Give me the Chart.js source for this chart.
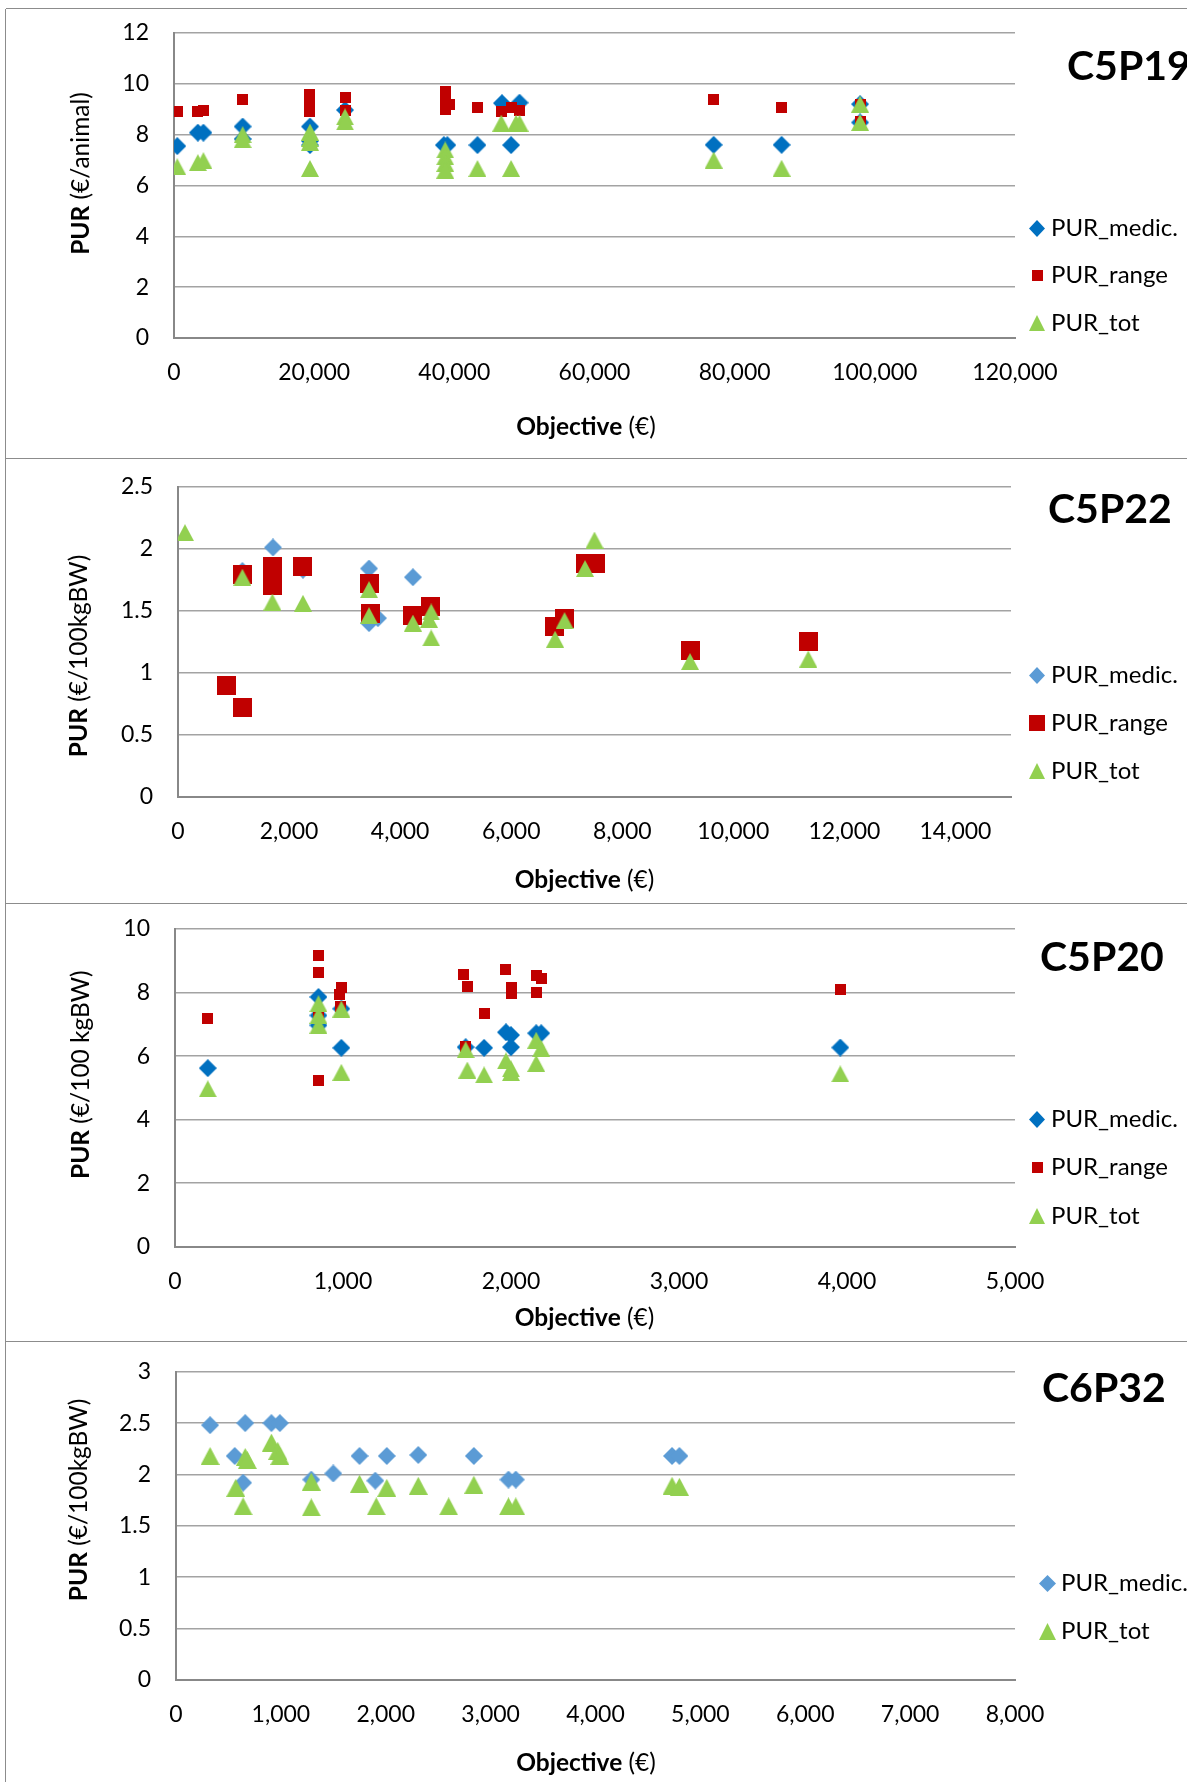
<!DOCTYPE html>
<html>
<head>
<meta charset="utf-8">
<script src="https://cdn.jsdelivr.net/npm/chart.js@4.4.1/dist/chart.umd.min.js"></script>
<style>
html, body { margin:0; padding:0; background:#fff; overflow:hidden; width:1187px; height:1782px; position:relative; }
canvas { position:absolute; display:block; }
.hl { position:absolute; left:6px; width:1181px; height:0; border-top:1.5px solid #8c8c8c; }
.vl { position:absolute; left:5px; top:9px; width:0; height:1773px; border-left:1.5px solid #8c8c8c; }
</style>
</head>
<body>
<canvas id="c1"></canvas>
<canvas id="c2"></canvas>
<canvas id="c3"></canvas>
<canvas id="c4"></canvas>
<div class="hl" style="top:8px"></div>
<div class="hl" style="top:458px"></div>
<div class="hl" style="top:903px"></div>
<div class="hl" style="top:1341px"></div>
<div class="vl"></div>
<script>
// ---------------- DATA ----------------
// C5P19 (PUR in €/animal vs Objective in €)
const C5P19_MEDIC_X = [470, 3400, 4200, 9800, 9800, 19400, 19400, 19400, 24400, 38500, 39000, 43300, 46800, 48100, 49300, 77000, 86700, 97900, 97900];
const C5P19_MEDIC_Y = [7.55, 8.08, 8.08, 8.32, 7.83, 8.32, 7.75, 7.59, 8.97, 7.59, 7.59, 7.59, 9.24, 7.59, 9.26, 7.60, 7.60, 9.20, 8.48];
const C5P19_RANGE_X = [470, 3400, 4200, 9800, 19400, 19400, 19400, 19400, 19400, 24400, 24400, 38700, 38700, 38700, 38700, 39300, 43300, 46700, 48100, 49300, 77000, 86700, 97900, 97900];
const C5P19_RANGE_Y = [8.93, 8.93, 8.97, 9.37, 9.60, 9.42, 9.24, 9.06, 8.90, 9.46, 8.97, 9.70, 9.45, 9.20, 9.00, 9.17, 9.08, 8.93, 9.07, 8.97, 9.40, 9.08, 9.20, 8.50];
const C5P19_TOT_X = [470, 3400, 4200, 9800, 9800, 19400, 19400, 19400, 19400, 24400, 24400, 38700, 38700, 38700, 38700, 43300, 46700, 48100, 48800, 49300, 77000, 86700, 97900, 97900];
const C5P19_TOT_Y = [6.74, 6.90, 6.98, 8.00, 7.80, 8.10, 7.85, 7.70, 6.67, 8.70, 8.50, 7.40, 7.13, 6.87, 6.60, 6.67, 8.45, 6.67, 8.45, 8.45, 7.00, 6.68, 9.20, 8.48];
const C5P19_X_TICKS = [0, 20000, 40000, 60000, 80000, 100000, 120000];
const C5P19_Y_TICKS = [0, 2, 4, 6, 8, 10, 12];

// C5P22 (PUR in €/100kgBW)
const C5P22_MEDIC_X = [1160, 1690, 1710, 2250, 3440, 3440, 3600, 4230, 11350];
const C5P22_MEDIC_Y = [1.82, 1.81, 2.01, 1.83, 1.84, 1.40, 1.44, 1.77, 1.25];
const C5P22_RANGE_X = [870, 1160, 1160, 1700, 1710, 2250, 3440, 3460, 4230, 4540, 6780, 6960, 7330, 7510, 9220, 11350];
const C5P22_RANGE_Y = [0.90, 0.72, 1.79, 1.86, 1.70, 1.86, 1.72, 1.48, 1.46, 1.53, 1.37, 1.44, 1.88, 1.88, 1.18, 1.25];
const C5P22_TOT_X = [126, 1160, 1700, 2250, 3440, 3440, 4230, 4560, 4520, 4560, 6790, 6960, 7330, 7500, 9220, 11350];
const C5P22_TOT_Y = [2.13, 1.77, 1.57, 1.56, 1.67, 1.46, 1.40, 1.49, 1.43, 1.28, 1.27, 1.42, 1.84, 2.07, 1.09, 1.11];
const C5P22_X_TICKS = [0, 2000, 4000, 6000, 8000, 10000, 12000, 14000];
const C5P22_X_MAX = 15000;
const C5P22_Y_TICKS = [0, 0.5, 1, 1.5, 2, 2.5];

// C5P20 (PUR in €/100 kgBW)
const C5P20_MEDIC_X = [195, 854, 854, 854, 990, 990, 1730, 1840, 1970, 2000, 2000, 2150, 2180, 3960];
const C5P20_MEDIC_Y = [5.62, 7.86, 7.28, 6.97, 7.49, 6.26, 6.28, 6.26, 6.75, 6.66, 6.28, 6.72, 6.72, 6.27];
const C5P20_RANGE_X = [195, 854, 854, 854, 854, 980, 993, 985, 1720, 1740, 1730, 1840, 1970, 2000, 2000, 2150, 2180, 2150, 3960];
const C5P20_RANGE_Y = [7.18, 9.18, 8.64, 7.25, 5.23, 7.94, 8.15, 7.55, 8.57, 8.18, 6.30, 7.34, 8.73, 8.15, 7.97, 8.55, 8.45, 8.00, 8.08];
const C5P20_TOT_X = [195, 854, 854, 854, 990, 990, 1730, 1740, 1840, 1970, 2000, 2000, 2150, 2180, 2150, 3960];
const C5P20_TOT_Y = [4.97, 7.65, 7.28, 6.97, 7.48, 5.49, 6.20, 5.56, 5.41, 5.85, 5.60, 5.48, 6.50, 6.24, 5.77, 5.44];
const C5P20_X_TICKS = [0, 1000, 2000, 3000, 4000, 5000];
const C5P20_Y_TICKS = [0, 2, 4, 6, 8, 10];

// C6P32 (PUR in €/100kgBW)
const C6P32_MEDIC_X = [325, 560, 640, 660, 910, 990, 1290, 1500, 1750, 1900, 2010, 2310, 2840, 3170, 3240, 4730, 4800];
const C6P32_MEDIC_Y = [2.48, 2.18, 1.92, 2.50, 2.50, 2.50, 1.95, 2.01, 2.18, 1.94, 2.18, 2.19, 2.18, 1.95, 1.95, 2.18, 2.18];
const C6P32_TOT_X = [325, 570, 640, 660, 680, 910, 970, 990, 1290, 1290, 1750, 1910, 2010, 2310, 2600, 2840, 3170, 3240, 4730, 4800];
const C6P32_TOT_Y = [2.18, 1.87, 1.69, 2.17, 2.14, 2.31, 2.23, 2.18, 1.93, 1.68, 1.91, 1.69, 1.87, 1.89, 1.69, 1.90, 1.69, 1.69, 1.89, 1.88];
const C6P32_X_TICKS = [0, 1000, 2000, 3000, 4000, 5000, 6000, 7000, 8000];
const C6P32_Y_TICKS = [0, 0.5, 1, 1.5, 2, 2.5, 3];

const SERIES_LABELS = ['PUR_medic.', 'PUR_range', 'PUR_tot'];
const X_TITLE = ['Objective', ' (€)'];

// ---------------- STYLE ----------------
const FONT = 'Lato, "Open Sans", "DejaVu Sans", sans-serif';
const DARK_BLUE = '#0070C0', LIGHT_BLUE = '#5B9BD5', RED = '#C00000', GREEN = '#92D050';
const GRID = '#a3a3a3', AXIS = '#888888';

function marker(shape, color, w, h) {
  const c = document.createElement('canvas');
  c.width = w; c.height = h;
  const g = c.getContext('2d');
  g.fillStyle = color;
  g.beginPath();
  if (shape === 'diamond') { g.moveTo(w / 2, 0); g.lineTo(w, h / 2); g.lineTo(w / 2, h); g.lineTo(0, h / 2); }
  else if (shape === 'square') { g.rect(0, 0, w, h); }
  else { g.moveTo(w / 2, 0); g.lineTo(w, h); g.lineTo(0, h); }
  g.closePath();
  g.fill();
  return c;
}

function mixedText(ctx, parts, cx, cy, rotate, size) {
  ctx.save();
  ctx.translate(cx, cy);
  if (rotate) ctx.rotate(-Math.PI / 2);
  const fonts = ['bold ' + size + 'px ' + FONT, size + 'px ' + FONT];
  const widths = parts.map((t, i) => { ctx.font = fonts[i]; return ctx.measureText(t).width; });
  let x = -(widths[0] + widths[1]) / 2;
  ctx.textBaseline = 'middle';
  ctx.textAlign = 'left';
  ctx.fillStyle = '#000';
  parts.forEach((t, i) => { ctx.font = fonts[i]; ctx.fillText(t, x, 0); x += widths[i]; });
  ctx.restore();
}

const deco = {
  id: 'deco',
  afterDraw(chart, args, o) {
    const ctx = chart.ctx;
    ctx.save();
    ctx.fillStyle = '#000';
    ctx.font = 'bold 41px ' + FONT;
    ctx.textAlign = 'left';
    ctx.textBaseline = 'alphabetic';
    ctx.fillText(o.title, o.titlePos[0], o.titlePos[1]);
    ctx.font = '24px ' + FONT;
    ctx.textBaseline = 'middle';
    o.legend.forEach((it, i) => {
      const m = it.icon;
      ctx.drawImage(m, Math.round(o.legendMX - m.width / 2), Math.round(o.legendYs[i] - m.height / 2));
      ctx.fillText(it.label, o.legendTX, o.legendYs[i]);
    });
    mixedText(ctx, X_TITLE, o.xTitlePos[0], o.xTitlePos[1], false, 24.5);
    mixedText(ctx, o.yTitle, o.yTitlePos[0], o.yTitlePos[1], true, 24.5);
    ctx.restore();
  }
};

function pts(xs, ys) { return xs.map((v, i) => ({ x: v, y: ys[i] })); }

const PANELS = [
  {
    id: 'c1', top: 9, height: 450, plot: { l: 174, r: 1015, t: 33, b: 338 },
    title: 'C5P19', titlePos: [1067, 80], xTicks: C5P19_X_TICKS, xMax: 120000, yTicks: C5P19_Y_TICKS,
    yTitle: ['PUR', ' (€/animal)'], yTitlePos: [81.5, 173.5], xTitlePos: [586, 427],
    legendYs: [228, 275, 323], legendMX: 1037, legendTX: 1051,
    series: [
      { label: SERIES_LABELS[0], x: C5P19_MEDIC_X, y: C5P19_MEDIC_Y, icon: marker('diamond', DARK_BLUE, 18, 18), legendIcon: marker('diamond', DARK_BLUE, 16, 17) },
      { label: SERIES_LABELS[1], x: C5P19_RANGE_X, y: C5P19_RANGE_Y, icon: marker('square', RED, 11, 11), legendIcon: marker('square', RED, 11, 11) },
      { label: SERIES_LABELS[2], x: C5P19_TOT_X, y: C5P19_TOT_Y, icon: marker('triangle', GREEN, 18, 17), legendIcon: marker('triangle', GREEN, 16, 16) }
    ]
  },
  {
    id: 'c2', top: 459, height: 445, plot: { l: 178, r: 1011, t: 486.7, b: 796.7 },
    title: 'C5P22', titlePos: [1048, 523], xTicks: C5P22_X_TICKS, xMax: C5P22_X_MAX, yTicks: C5P22_Y_TICKS,
    yTitle: ['PUR', ' (€/100kgBW)'], yTitlePos: [79.5, 656], xTitlePos: [584.5, 880],
    legendYs: [675, 723, 771], legendMX: 1037, legendTX: 1051,
    series: [
      { label: SERIES_LABELS[0], x: C5P22_MEDIC_X, y: C5P22_MEDIC_Y, icon: marker('diamond', LIGHT_BLUE, 18, 18), legendIcon: marker('diamond', LIGHT_BLUE, 16, 17) },
      { label: SERIES_LABELS[1], x: C5P22_RANGE_X, y: C5P22_RANGE_Y, icon: marker('square', RED, 19, 19), legendIcon: marker('square', RED, 16, 16) },
      { label: SERIES_LABELS[2], x: C5P22_TOT_X, y: C5P22_TOT_Y, icon: marker('triangle', GREEN, 18, 17), legendIcon: marker('triangle', GREEN, 16, 16) }
    ]
  },
  {
    id: 'c3', top: 904, height: 438, plot: { l: 175, r: 1015, t: 929, b: 1246.7 },
    title: 'C5P20', titlePos: [1040, 971], xTicks: C5P20_X_TICKS, xMax: 5000, yTicks: C5P20_Y_TICKS,
    yTitle: ['PUR', ' (€/100 kgBW)'], yTitlePos: [81.5, 1074.7], xTitlePos: [584.5, 1318.3],
    legendYs: [1119, 1167, 1216], legendMX: 1037, legendTX: 1051,
    series: [
      { label: SERIES_LABELS[0], x: C5P20_MEDIC_X, y: C5P20_MEDIC_Y, icon: marker('diamond', DARK_BLUE, 18, 18), legendIcon: marker('diamond', DARK_BLUE, 16, 17) },
      { label: SERIES_LABELS[1], x: C5P20_RANGE_X, y: C5P20_RANGE_Y, icon: marker('square', RED, 11, 11), legendIcon: marker('square', RED, 11, 11) },
      { label: SERIES_LABELS[2], x: C5P20_TOT_X, y: C5P20_TOT_Y, icon: marker('triangle', GREEN, 18, 17), legendIcon: marker('triangle', GREEN, 16, 16) }
    ]
  },
  {
    id: 'c4', top: 1342, height: 440, plot: { l: 176, r: 1015, t: 1371.7, b: 1680 },
    title: 'C6P32', titlePos: [1042, 1402], xTicks: C6P32_X_TICKS, xMax: 8000, yTicks: C6P32_Y_TICKS,
    yTitle: ['PUR', ' (€/100kgBW)'], yTitlePos: [79, 1500], xTitlePos: [586, 1763],
    legendYs: [1583, 1631], legendMX: 1047, legendTX: 1061,
    series: [
      { label: SERIES_LABELS[0], x: C6P32_MEDIC_X, y: C6P32_MEDIC_Y, icon: marker('diamond', LIGHT_BLUE, 18, 18), legendIcon: marker('diamond', LIGHT_BLUE, 17, 17) },
      { label: SERIES_LABELS[2], x: C6P32_TOT_X, y: C6P32_TOT_Y, icon: marker('triangle', GREEN, 19, 18), legendIcon: marker('triangle', GREEN, 17, 17) }
    ]
  }
];

function build(p) {
  const W = 1181, H = p.height, OX = 6, OY = p.top;
  const cv = document.getElementById(p.id);
  cv.width = W; cv.height = H;
  cv.style.left = OX + 'px'; cv.style.top = OY + 'px';
  const area = { l: p.plot.l - OX, r: p.plot.r - OX, t: p.plot.t - OY, b: p.plot.b - OY };
  const YW = 60, XH = 70;
  const n = p.series.length;
  const pad = { left: area.l - YW, top: area.t, right: W - area.r, bottom: H - area.b - XH };
  const chart = new Chart(cv, {
    type: 'scatter',
    data: {
      datasets: p.series.map((s, i) => ({
        label: s.label,
        data: pts(s.x, s.y),
        pointStyle: s.icon,
        pointRadius: 9,
        pointHoverRadius: 9,
        backgroundColor: 'transparent',
        borderWidth: 0,
        order: n - i
      }))
    },
    options: {
      responsive: false,
      animation: false,
      events: [],
      layout: { padding: pad },
      plugins: {
        legend: { display: false },
        tooltip: { enabled: false },
        deco: {
          title: p.title,
          titlePos: [p.titlePos[0] - OX, p.titlePos[1] - OY],
          legend: p.series.map(s => ({ label: s.label, icon: s.legendIcon })),
          legendYs: p.legendYs.map(v => v - OY),
          legendMX: p.legendMX - OX,
          legendTX: p.legendTX - OX,
          xTitlePos: [p.xTitlePos[0] - OX, p.xTitlePos[1] - OY],
          yTitle: p.yTitle,
          yTitlePos: [p.yTitlePos[0] - OX, p.yTitlePos[1] - OY]
        }
      },
      scales: {
        x: {
          type: 'linear', position: 'bottom', min: 0, max: p.xMax,
          afterBuildTicks: (a) => { a.ticks = p.xTicks.map(v => ({ value: v })); },
          afterFit: (s) => { s.height = XH; },
          grid: { display: false, drawTicks: false },
          border: { display: true, color: AXIS, width: 2 },
          ticks: {
            font: { family: FONT, size: 23 }, color: '#000', padding: 21,
            maxRotation: 0, autoSkip: false,
            callback: (v) => Number(v).toLocaleString('en-US')
          }
        },
        y: {
          type: 'linear', position: 'left', min: 0, max: p.yTicks[p.yTicks.length - 1],
          afterBuildTicks: (a) => { a.ticks = p.yTicks.map(v => ({ value: v })); },
          afterFit: (s) => { s.width = YW; },
          grid: { display: true, drawTicks: true, tickLength: 25, tickColor: 'rgba(0,0,0,0)', color: GRID, lineWidth: 1.5 },
          border: { display: true, color: AXIS, width: 2 },
          ticks: {
            font: { family: FONT, size: 23 }, color: '#000', padding: 0,
            autoSkip: false,
            callback: (v) => String(v)
          }
        }
      }
    },
    plugins: [deco]
  });
  // nudge the layout padding so that the plot area lands exactly where the reference has it
  for (let k = 0; k < 3; k++) {
    const ca = chart.chartArea;
    const dT = area.t - ca.top, dB = ca.bottom - area.b, dL = area.l - ca.left, dR = ca.right - area.r;
    if (Math.abs(dT) < 0.3 && Math.abs(dB) < 0.3 && Math.abs(dL) < 0.3 && Math.abs(dR) < 0.3) break;
    pad.top += dT; pad.bottom += dB; pad.left += dL; pad.right += dR;
    chart.options.layout.padding = Object.assign({}, pad);
    chart.update('none');
  }
}

function buildAll() { PANELS.forEach(build); }
if (document.fonts && document.fonts.load) {
  Promise.all([
    document.fonts.load('23px Lato'),
    document.fonts.load('bold 23px Lato'),
    document.fonts.load('bold 41px Lato')
  ]).then(buildAll, buildAll);
} else {
  buildAll();
}
</script>
</body>
</html>
